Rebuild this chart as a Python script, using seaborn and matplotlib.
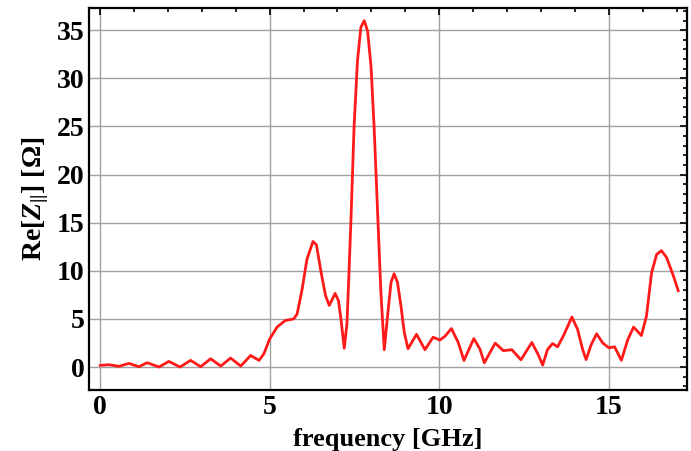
import numpy as np
import pandas as pd
import matplotlib
matplotlib.use("Agg")
import matplotlib.pyplot as plt
from matplotlib.ticker import MultipleLocator
import seaborn as sns

# values
freq = [0.0, 0.27, 0.56, 0.85, 1.15, 1.39, 1.74, 2.03, 2.36, 2.67, 2.97, 3.26,
        3.56, 3.85, 4.15, 4.44, 4.69, 4.83, 5.0, 5.22, 5.46, 5.71, 5.81, 5.96,
        6.1, 6.28, 6.38, 6.52, 6.65, 6.76, 6.93, 7.03, 7.11, 7.2, 7.28, 7.34,
        7.40, 7.49, 7.59, 7.69, 7.79, 7.89, 7.99, 8.08, 8.18, 8.28, 8.38, 8.48,
        8.58, 8.67, 8.77, 8.87, 8.97, 9.08, 9.33, 9.58, 9.82, 10.02, 10.17,
        10.36, 10.56, 10.73, 11.02, 11.2, 11.33, 11.65, 11.89, 12.14, 12.41,
        12.73, 12.93, 13.05, 13.19, 13.34, 13.49, 13.68, 13.91, 14.08, 14.23,
        14.33, 14.48, 14.64, 14.82, 15.0, 15.17, 15.37, 15.56, 15.73, 15.96,
        16.11, 16.26, 16.41, 16.55, 16.70, 16.9, 17.05]
re_z = [0.17, 0.24, 0.07, 0.38, 0.03, 0.45, 0.0, 0.58, 0.0, 0.69, 0.03, 0.86,
        0.1, 0.93, 0.1, 1.2, 0.69, 1.37, 2.9, 4.15, 4.83, 5.0, 5.5, 8.1,
        11.2, 13.05, 12.7, 9.8, 7.4, 6.4, 7.65, 6.9, 4.8, 1.95, 4.5, 9.8,
        15.5, 25.0, 31.8, 35.3, 36.0, 34.9, 31.2, 25.0, 16.4, 7.8, 1.8, 5.4,
        8.8, 9.7, 8.8, 6.4, 3.6, 1.9, 3.4, 1.8, 3.1, 2.8, 3.2,
        4.0, 2.55, 0.68, 2.96, 1.87, 0.44, 2.48, 1.7, 1.8, 0.75,
        2.55, 1.2, 0.2, 1.8, 2.44, 2.1, 3.38, 5.2, 3.9, 1.8,
        0.77, 2.33, 3.45, 2.5, 2.0, 2.1, 0.7, 2.86, 4.15, 3.27,
        5.3, 9.8, 11.7, 12.1, 11.4, 9.5, 7.9]

df = pd.DataFrame({"f": freq, "z": re_z})

sns.set_style("white")
plt.rcParams["font.family"] = ["Liberation Serif", "DejaVu Serif"]
plt.rcParams["font.weight"] = "bold"
plt.rcParams["text.color"] = "black"
plt.rcParams["axes.labelcolor"] = "black"
plt.rcParams["xtick.color"] = "black"
plt.rcParams["ytick.color"] = "black"
plt.rcParams["mathtext.fontset"] = "custom"
plt.rcParams["mathtext.rm"] = "Liberation Serif:bold"
plt.rcParams["mathtext.it"] = "Liberation Serif:italic:bold"
plt.rcParams["mathtext.bf"] = "Liberation Serif:bold"

fig = plt.figure(figsize=(6.91, 4.51), dpi=100)
ax = fig.add_axes([0.129, 0.135, 0.865, 0.847])

sns.lineplot(data=df, x="f", y="z", color="#ff1a1a", linewidth=2.0, ax=ax)
ax.lines[0].set_solid_joinstyle("round")

ax.set_xlim(-0.32, 17.3)
ax.set_ylim(-2.4, 37.3)
ax.xaxis.set_major_locator(MultipleLocator(5))
ax.xaxis.set_minor_locator(MultipleLocator(1))
ax.yaxis.set_major_locator(MultipleLocator(5))
ax.yaxis.set_minor_locator(MultipleLocator(1))
ax.grid(True, which="major", color="#a0a0a0", linewidth=1.0)
ax.tick_params(which="both", direction="in", top=True, right=True,
               labelsize=20, width=1.2, color="black")
ax.tick_params(which="major", length=5)
ax.tick_params(which="minor", length=3)
for lab in ax.get_xticklabels() + ax.get_yticklabels():
    lab.set_fontweight("bold")
for s in ax.spines.values():
    s.set_linewidth(1.6)
    s.set_color("black")

ax.set_xlabel("frequency [GHz]", fontsize=19, fontweight="bold", labelpad=6)
ax.set_ylabel(r"Re$[\mathit{Z}_{||}]$ [Ω]", fontsize=20, fontweight="bold",
              labelpad=4)

fig.savefig("out.png", dpi=100)
